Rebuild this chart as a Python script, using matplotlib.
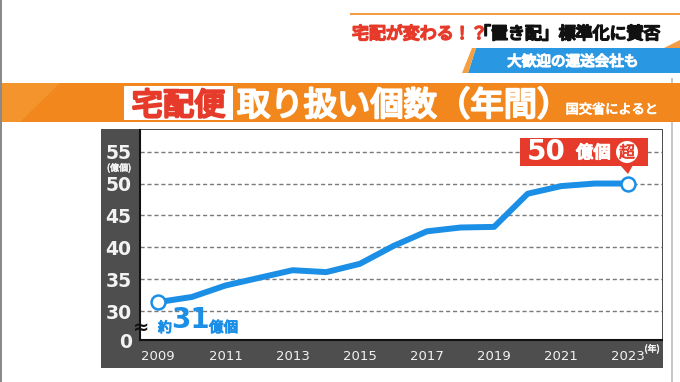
#!/usr/bin/env python3

import numpy as np
import matplotlib
matplotlib.use("Agg")
import matplotlib.pyplot as plt
import matplotlib.patheffects as pe
from matplotlib.patches import Rectangle, Polygon, Ellipse

# data (100 million parcels / year)
years = [2009, 2010, 2011, 2012, 2013, 2014, 2015, 2016,
         2017, 2018, 2019, 2020, 2021, 2022, 2023]
parcels = [31.4, 32.2, 34.0, 35.2, 36.4, 36.1, 37.4, 40.2,
           42.5, 43.1, 43.2, 48.4, 49.6, 50.0, 50.0]
ytick_vals = [25.45, 30, 35, 40, 45, 50, 55]
ytick_labels = ["0", "30", "35", "40", "45", "50", "55"]
xtick_vals = [2009, 2011, 2013, 2015, 2017, 2019, 2021, 2023]
xtick_labels = ["2009", "2011", "2013", "2015", "2017", "2019", "2021", "2023"]

W, H = 680, 382
JP = ["Noto Sans CJK JP", "DejaVu Sans"]
BLUE = "#1b8fe6"
RED = "#e63b2a"
ORANGE = "#f2871d"
FRAME = "#4e4e4e"


def fx(x):
    return x / W


def fy(y):
    return 1 - y / H


def rect(fig, x0, y0, x1, y1, **kw):
    fig.patches.append(Rectangle((fx(x0), fy(y1)), (x1 - x0) / W, (y1 - y0) / H,
                                 transform=fig.transFigure, **kw))


def poly(fig, pts, **kw):
    fig.patches.append(Polygon([(fx(a), fy(b)) for a, b in pts], closed=True,
                               transform=fig.transFigure, **kw))


def bold(color, w=1.0):
    return [pe.withStroke(linewidth=w, foreground=color)]


def jtext(fig, x, y, s, size, color, w=1.0, **kw):
    kw.setdefault("ha", "left")
    kw.setdefault("va", "center")
    return fig.text(fx(x), fy(y), s, family=JP, size=size, color=color,
                    path_effects=bold(color, w), **kw)


def main():
    fig = plt.figure(figsize=(W / 100, H / 100), dpi=100)
    fig.patch.set_facecolor("white")

    # borders
    rect(fig, 0, 0, 2, H, color="#8a8a8a", lw=0)
    rect(fig, 671, 78, 673, H, color="#c8c8c8", lw=0)

    # headline
    rect(fig, 350, 13, 680, 15, color="#f39b45", lw=0)
    jtext(fig, 352, 34, "宅配が変わる！？", 12.2, RED, 1.3)
    jtext(fig, 474, 34, "「置き配」標準化に賛否", 12.2, "#111111", 1.3)
    poly(fig, [(664, 48), (680, 40), (680, 48)], color="#f39b45", lw=0)
    poly(fig, [(468, 73), (476, 48), (680, 48), (680, 73)], color="#2a97e2", lw=0)
    poly(fig, [(462, 73), (472, 48), (476, 48), (468, 73)], color="#f5a040", lw=0)
    jtext(fig, 573, 62, "大歓迎の運送会社も", 10.5, "white", 1.0, ha="center")

    # orange title band
    rect(fig, 2, 83, 680, 122, color=ORANGE, lw=0)
    poly(fig, [(2, 83), (60, 83), (20, 122), (2, 122)], color="#f59a35", lw=0, alpha=0.7)
    rect(fig, 124, 86, 233, 120, color="white", lw=0)
    jtext(fig, 178.5, 106, "宅配便", 22.5, RED, 1.8, ha="center")
    jtext(fig, 237, 106, "取り扱い個数（年間）", 24, "white", 1.6)
    jtext(fig, 612, 110, "国交省によると", 9.5, "white", 0.6, ha="center")

    # dark chart frame (behind the axes)
    rect(fig, 101, 129, 663, 368, color=FRAME, lw=0, zorder=-1)

    ax = fig.add_axes([fx(140), fy(340), (662 - 140) / W, (340 - 130) / H])
    ax.set_facecolor("white")
    ax.plot(years, parcels, color=BLUE, lw=4.3, solid_capstyle="round",
            solid_joinstyle="round", zorder=3)
    ax.plot([years[0], years[-1]], [parcels[0], parcels[-1]], "o", ms=10,
            mfc="white", mec=BLUE, mew=1.8, zorder=4)

    ax.set_xlim(2008.455, 2024.0)
    ax.set_ylim(25.45, 58.4)
    ax.set_yticks(ytick_vals)
    ax.set_yticklabels(ytick_labels)
    ax.set_xticks(xtick_vals)
    ax.set_xticklabels(xtick_labels)
    ax.tick_params(axis="y", length=0, pad=6, labelcolor="#f2f2f2", labelsize=13.5)
    ax.tick_params(axis="x", length=0, pad=7, labelcolor="#f2f2f2", labelsize=9.5)
    for lab in ax.get_yticklabels():
        lab.set_fontweight("bold")
        lab.set_family("DejaVu Sans")
    for lab in ax.get_xticklabels():
        lab.set_family("DejaVu Sans")
    ax.yaxis.grid(True, color="#7a7a7a", lw=1.0, ls=(0, (3, 2)))
    ax.set_axisbelow(True)
    for s in ["top", "right"]:
        ax.spines[s].set_visible(False)
    ax.spines["left"].set_color("#111111")
    ax.spines["bottom"].set_color("#111111")
    ax.spines["left"].set_linewidth(1.5)
    ax.spines["bottom"].set_linewidth(1.5)

    jtext(fig, 119, 168, "(億個)", 6.5, "#f2f2f2", 0.4, ha="center")
    jtext(fig, 652, 349, "(年)", 6.5, "#f2f2f2", 0.4, ha="center")
    fig.text(fx(141), fy(327), "≈", family="DejaVu Sans", weight="bold", size=14,
             color="#111111", ha="center", va="center")

    # start label
    jtext(fig, 158, 328, "約", 10, BLUE, 0.8)
    fig.text(fx(171), fy(320), "31", family="DejaVu Sans", weight="bold", size=20,
             color=BLUE, ha="left", va="center")
    jtext(fig, 209, 328, "億個", 10.5, BLUE, 0.8)

    # end callout
    rect(fig, 520, 138, 648, 166, color=RED, lw=0)
    poly(fig, [(620, 165), (633, 165), (628, 174)], color=RED, lw=0)
    fig.text(fx(527), fy(152), "50", family="DejaVu Sans", weight="bold", size=20,
             color="white", ha="left", va="center")
    jtext(fig, 576, 153, "億個", 12.5, "white", 1.0)
    fig.patches.append(Ellipse((fx(627), fy(152)), 22 / W, 22 / H,
                               transform=fig.transFigure, color="white", lw=0))
    jtext(fig, 627, 153, "超", 11.5, RED, 0.5, ha="center")

    fig.savefig("out.png", dpi=100)
    return 0


if __name__ == '__main__':
    main()
